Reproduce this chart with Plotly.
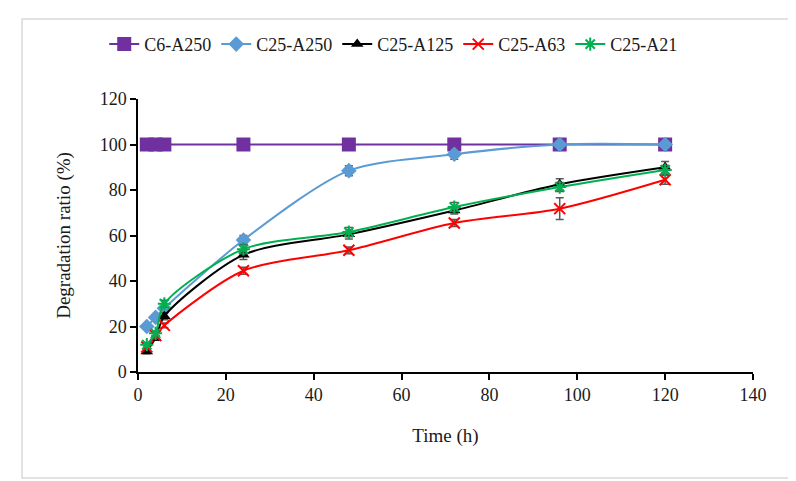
import plotly.graph_objects as go

time_h = [2, 4, 6, 24, 48, 72, 96, 120]

c6_a250 = [100, 100, 100, 100, 100, 100, 100, 100]
c6_a250_err = [0, 0, 0, 0, 0, 0, 0, 0]

c25_a250 = [20, 24, 28, 58, 88.5, 95.7, 100, 100]
c25_a250_err = [0.8, 1, 1, 2, 2.2, 2.2, 0.5, 0.5]

c25_a125 = [9, 15, 24.5, 51.5, 60.5, 71, 82.5, 90]
c25_a125_err = [1, 1, 1.5, 2, 2, 1.5, 2.5, 2.5]

c25_a63 = [11, 16, 20.5, 44.5, 53.5, 65.5, 71.8, 84.5]
c25_a63_err = [1, 1, 1, 1.5, 1.5, 1.5, 4.8, 2]

c25_a21 = [12, 17, 30, 54, 61.5, 72.5, 81.3, 88.8]
c25_a21_err = [1, 1, 1.5, 2, 2, 2, 2, 2]

font_name = "Liberation Serif"
err_color = "#595959"

series = [
    ("C6-A250", c6_a250, c6_a250_err, "#7030A0",
     dict(symbol="square", size=14, color="#7030A0")),
    ("C25-A250", c25_a250, c25_a250_err, "#5B9BD5",
     dict(symbol="diamond", size=12, color="#5B9BD5")),
    ("C25-A125", c25_a125, c25_a125_err, "#000000",
     dict(symbol="triangle-up", size=11, color="#000000")),
    ("C25-A63", c25_a63, c25_a63_err, "#FF0000",
     dict(symbol="x-thin-open", size=11, color="#FF0000", line=dict(width=2, color="#FF0000"))),
    ("C25-A21", c25_a21, c25_a21_err, "#00B050",
     dict(symbol="asterisk-open", size=11, color="#00B050", line=dict(width=2, color="#00B050"))),
]

fig = go.Figure()
for name, vals, errs, color, marker in series:
    fig.add_trace(go.Scatter(
        x=time_h,
        y=vals,
        name=name,
        mode="lines+markers",
        line=dict(color=color, width=2, shape="spline", smoothing=0.8),
        marker=marker,
        error_y=dict(type="data", array=errs, visible=True,
                     color=err_color, thickness=1.5, width=4),
    ))

fig.update_xaxes(
    range=[0, 140],
    tickvals=[0, 20, 40, 60, 80, 100, 120, 140],
    showline=True, linecolor="black", linewidth=1.5,
    ticks="outside", ticklen=6, tickwidth=1.5, tickcolor="black",
    showgrid=False, zeroline=False,
    tickfont=dict(family=font_name, size=18, color="#1a1a1a"),
    title=dict(text="Time (h)", font=dict(family=font_name, size=19, color="#1a1a1a"), standoff=24),
)
fig.update_yaxes(
    range=[0, 120],
    tickvals=[0, 20, 40, 60, 80, 100, 120],
    showline=True, linecolor="black", linewidth=1.5,
    ticks="outside", ticklen=6, tickwidth=1.5, tickcolor="black",
    showgrid=False, zeroline=False,
    tickfont=dict(family=font_name, size=18, color="#1a1a1a"),
    title=dict(text="Degradation ratio (%)", font=dict(family=font_name, size=19, color="#1a1a1a"), standoff=24),
)

fig.update_layout(
    width=796,
    height=481,
    margin={"l": 130, "r": 51, "t": 91, "b": 117},
    plot_bgcolor="white",
    paper_bgcolor="white",
    showlegend=True,
    legend=dict(
        orientation="h",
        x=0.415, xanchor="center",
        y=1.2, yanchor="middle",
        font=dict(family=font_name, size=18, color="#1a1a1a"),
        itemwidth=30,
        tracegroupgap=0,
    ),
    shapes=[dict(
        type="rect", xref="paper", yref="paper",
        x0=-0.1886, x1=1.0634, y0=-0.388, y1=1.293,
        line=dict(color="#D9D9D9", width=1.5),
    )],
)

fig.write_html("out.html")
